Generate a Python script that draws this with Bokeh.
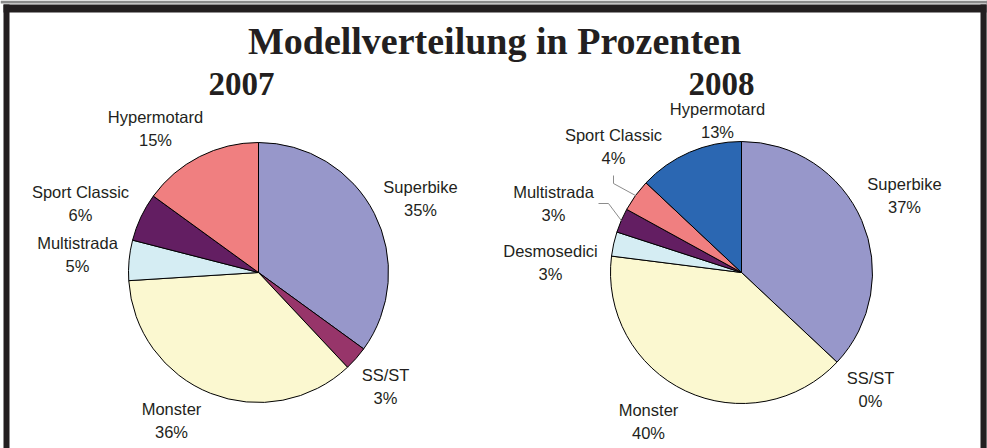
import math
from bokeh.plotting import figure
from bokeh.models import Range1d
from bokeh.core.properties import value
from bokeh.embed import file_html
from bokeh.resources import INLINE

W, H = 987, 448

# ---- data ----
title = "Modellverteilung in Prozenten"
years = ["2007", "2008"]

models_2007 = ["Superbike", "SS/ST", "Monster", "Multistrada", "Sport Classic", "Hypermotard"]
shares_2007 = [35, 3, 36, 5, 6, 15]
colors_2007 = ["#9797CA", "#97356A", "#FBF8D0", "#D5EDF3", "#631E62", "#F07F80"]

models_2008 = ["Superbike", "SS/ST", "Monster", "Desmosedici", "Multistrada", "Sport Classic", "Hypermotard"]
shares_2008 = [37, 0, 40, 3, 3, 4, 13]
colors_2008 = ["#9797CA", "#97356A", "#FBF8D0", "#D5EDF3", "#631E62", "#F07F80", "#2B67B2"]

# label placement (offsets from pie centre, in pixels; y downward)
lab_2007 = [(162, -74), (127, 114), (-87, 148), (-181, -18), (-178, -69), (-103, -144)]
lab_2008 = [(163, -77), (129, 117), (-93, 149), (-191, -10), (-188, -69), (-128, -126), (-24, -152)]
# leader lines: start point and bend point (offsets from pie centre)
leader_2008 = {"Sport Classic": [(-128, -97), (-128, -89)],
               "Multistrada": [(-143, -69), (-133, -69)]}

p = figure(width=W, height=H, x_range=Range1d(0, W), y_range=Range1d(0, H),
           output_backend="svg", toolbar_location=None, min_border=0,
           background_fill_color="white", border_fill_color="white")
p.axis.visible = False
p.grid.visible = False
p.outline_line_color = None

def Y(y):
    return H - y

# frame
p.quad(left=0, right=W, top=H, bottom=H - 3, fill_color="#8a8a8a", line_color=None)
p.quad(left=986, right=W, top=H, bottom=0, fill_color="#8a8a8a", line_color=None)
p.quad(left=3, right=986, top=H - 4, bottom=H - 12, fill_color="#231F20", line_color=None)
p.quad(left=3, right=9, top=H - 4, bottom=0, fill_color="#231F20", line_color=None)
p.quad(left=980, right=986, top=H - 4, bottom=0, fill_color="#231F20", line_color=None)

serif = value("Liberation Serif")
sans = value("Liberation Sans")

p.text(x=[494], y=[Y(40)], text=[title], text_font=serif, text_font_style="bold",
       text_font_size="38px", text_align="center", text_baseline="middle", text_color="#231F20")

def pie(cx, cy, R, models, shares, colors, labels, year, yx, leaders=None):
    total = sum(shares)
    cum = 0
    starts, ends = [], []
    for s in shares:
        a0 = math.pi / 2 - 2 * math.pi * cum / total
        cum += s
        a1 = math.pi / 2 - 2 * math.pi * cum / total
        starts.append(a1)
        ends.append(a0)
    keep = [i for i, s in enumerate(shares) if s > 0]
    p.wedge(x=[cx] * len(keep), y=[Y(cy)] * len(keep), radius=R, radius_units="screen",
            start_angle=[starts[i] for i in keep], end_angle=[ends[i] for i in keep],
            fill_color=[colors[i] for i in keep], line_color="black", line_width=1)
    if leaders:
        for i, m in enumerate(models):
            if m in leaders:
                mid = (starts[i] + ends[i]) / 2
                ex = cx + R * math.cos(mid)
                ey = cy - R * math.sin(mid)
                (sx, sy), (bx, by) = leaders[m]
                p.line(x=[cx + sx, cx + bx, ex], y=[Y(cy + sy), Y(cy + by), Y(ey)],
                       line_color="#8c8c8c", line_width=1)
    txt = [f"{m}\n{s}%" for m, s in zip(models, shares)]
    p.text(x=[cx + dx for dx, dy in labels], y=[Y(cy + dy) for dx, dy in labels], text=txt,
           text_font=sans, text_font_size="16.5px", text_align="center",
           text_baseline="middle", text_line_height=1.33, text_color="#231F20")
    p.text(x=[yx], y=[Y(83)], text=[year], text_font=serif, text_font_style="bold",
           text_font_size="33px", text_align="center", text_baseline="middle", text_color="#231F20")

pie(258, 272, 130, models_2007, shares_2007, colors_2007, lab_2007, years[0], 241)
pie(741, 272, 131, models_2008, shares_2008, colors_2008, lab_2008, years[1], 721, leader_2008)

open("out.html", "w").write(file_html(p, INLINE))
